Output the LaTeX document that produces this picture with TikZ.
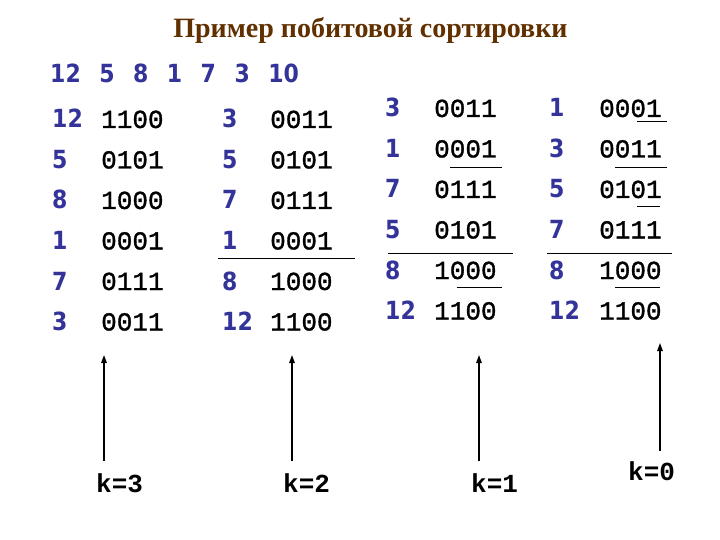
\documentclass[tikz,border=0pt]{standalone}
\usepackage{fontspec}
\setmainfont{Liberation Serif}
\newfontfamily\numfont{DejaVu Sans}[FakeStretch=0.88]
\newfontfamily\binfont{Liberation Mono}[FakeBold=1.2]
\newfontfamily\kfont{Liberation Mono}
\usetikzlibrary{positioning, arrows.meta}

\definecolor{numblue}{RGB}{51,51,153}
\definecolor{titlebrown}{RGB}{96,48,0}

\begin{document}
\begin{tikzpicture}[
    x=1pt, y=-1pt,
    title/.style={anchor=base, inner sep=0pt, text=titlebrown, font=\fontsize{28}{30}\selectfont\bfseries},
    num/.style={anchor=base west, inner sep=0pt, text=numblue, font=\numfont\fontsize{25}{28}\selectfont\bfseries},
    bin/.style={anchor=base west, inner sep=0pt, font=\binfont\fontsize{26}{28}\selectfont},
    klabel/.style={anchor=base west, inner sep=0pt, font=\kfont\fontsize{26}{28}\selectfont\bfseries},
    sep/.style={line width=1pt},
    arrow/.style={-{Triangle[length=8pt, width=5.5pt]}, line width=1.4pt},
]
\useasboundingbox[fill=white] (0,0) rectangle (720,540);

% Title and input sequence
\node[title] (title) at (370.5,38) {Пример побитовой сортировки};
\node[num] (input) at (50,83) {\spaceskip=18.5pt 12 5 8 1 7 3 10};

% Column 1: input
\foreach \n/\b [count=\i] in {12/1100, 5/0101, 8/1000, 1/0001, 7/0111, 3/0011} {
    \node[num] (n1r\i) at (52,{128+40.5*(\i-1)}) {\n};
    \node[bin] (b1r\i) at (101,{128+40.5*(\i-1)}) {\b};
}

% Column 2: after k=3
\foreach \n/\b [count=\i] in {3/0011, 5/0101, 7/0111, 1/0001, 8/1000, 12/1100} {
    \node[num] (n2r\i) at (222,{128+40.5*(\i-1)}) {\n};
    \node[bin] (b2r\i) at (270,{128+40.5*(\i-1)}) {\b};
}

% Column 3: after k=2
\foreach \n/\b [count=\i] in {3/0011, 1/0001, 7/0111, 5/0101, 8/1000, 12/1100} {
    \node[num] (n3r\i) at (385,{117+40.5*(\i-1)}) {\n};
    \node[bin] (b3r\i) at (434,{117+40.5*(\i-1)}) {\b};
}

% Column 4: after k=1
\foreach \n/\b [count=\i] in {1/0001, 3/0011, 5/0101, 7/0111, 8/1000, 12/1100} {
    \node[num] (n4r\i) at (549,{117+40.5*(\i-1)}) {\n};
    \node[bin] (b4r\i) at (599,{117+40.5*(\i-1)}) {\b};
}

% Separators
\draw[sep] (218,258) -- (355,258);
\draw[sep] (450,168) -- (502,168);
\draw[sep] (388,253) -- (513,253);
\draw[sep] (457,287) -- (502,287);
\draw[sep] (637,122) -- (667,122);
\draw[sep] (615,168) -- (667,168);
\draw[sep] (637,207) -- (660,207);
\draw[sep] (547,253) -- (672,253);
\draw[sep] (615,287) -- (660,287);

% Bit labels
\node[klabel] (k3) at (96,492) {k=3};
\node[klabel] (k2) at (283,492) {k=2};
\node[klabel] (k1) at (471,492) {k=1};
\node[klabel] (k0) at (628,480) {k=0};

\coordinate (t3) at (104,355);
\coordinate (t2) at (292,355);
\coordinate (t1) at (479,355);
\coordinate (t0) at (660,343);

% Arrows
\draw[arrow] ([yshift=12pt]k3.north -| t3) -- (t3);
\draw[arrow] ([yshift=12pt]k2.north -| t2) -- (t2);
\draw[arrow] ([yshift=12pt]k1.north -| t1) -- (t1);
\draw[arrow] ([yshift=10pt]k0.north -| t0) -- (t0);

\end{tikzpicture}
\end{document}
